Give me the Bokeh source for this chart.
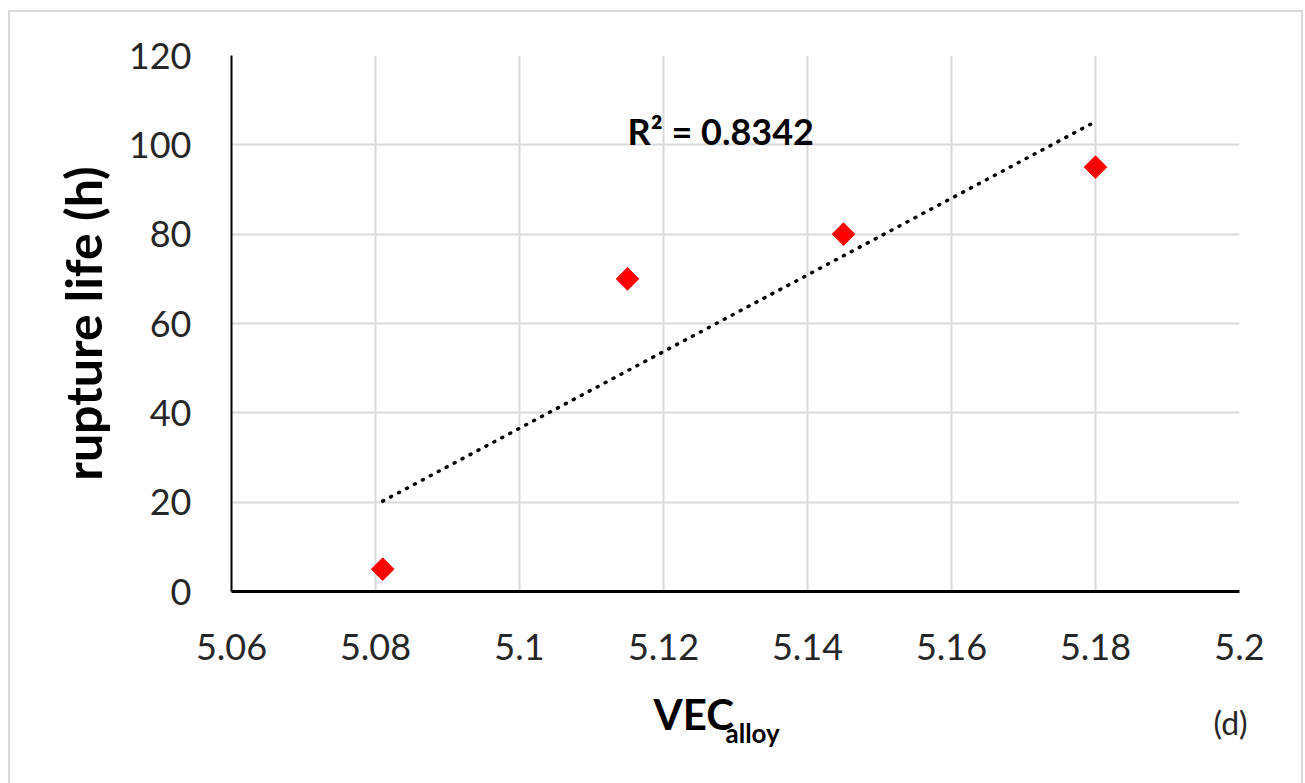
import math
import numpy as np
from bokeh.plotting import figure
from bokeh.models import (FixedTicker, CustomJSTickFormatter, Label, Range1d,
                          ColumnDataSource)
from bokeh.embed import file_html
from bokeh.resources import INLINE

# Valence electron concentration of each alloy and its creep rupture life
vec_alloy = [5.081, 5.115, 5.145, 5.18]
rupture_life_h = [5, 70, 80, 95]

x_ticks = [5.06, 5.08, 5.10, 5.12, 5.14, 5.16, 5.18, 5.20]
x_tick_labels = ["5.06", "5.08", "5.1", "5.12", "5.14", "5.16", "5.18", "5.2"]
y_ticks = [0, 20, 40, 60, 80, 100, 120]
r2_text = "R\u00b2 = 0.8342"

FONT = "Lato"
TICK_COLOR = "#262626"

# canvas sits inside a thin grey chart-area frame
p = figure(width=1291, height=771, output_backend="svg", toolbar_location=None,
           x_range=Range1d(5.06, 5.20), y_range=Range1d(0, 120),
           min_border_left=221, min_border_right=62, min_border_top=43,
           min_border_bottom=192, margin=(12, 0, 0, 10))
p.styles = {"box-shadow": "0 0 0 2px #d9d9d9"}
p.outline_line_color = None
p.background_fill_color = "white"
p.border_fill_color = "white"

# axes
for ax in (p.xaxis[0], p.yaxis[0]):
    ax.major_tick_line_color = None
    ax.minor_tick_line_color = None
    ax.major_tick_out = 0
    ax.major_tick_in = 0
    ax.axis_line_color = "black"
    ax.major_label_text_font = FONT
    ax.major_label_text_font_size = "36px"
    ax.major_label_text_color = TICK_COLOR
p.xaxis[0].axis_line_width = 3
p.yaxis[0].axis_line_width = 2
p.xaxis[0].major_label_standoff = 42
p.yaxis[0].major_label_standoff = 40
p.xaxis[0].ticker = FixedTicker(ticks=x_ticks)
p.yaxis[0].ticker = FixedTicker(ticks=y_ticks)
p.xaxis[0].formatter = CustomJSTickFormatter(
    args=dict(xt=x_ticks, xl=x_tick_labels),
    code="const i = xt.findIndex(t => Math.abs(t - tick) < 1e-9); return i >= 0 ? xl[i] : '';")

p.yaxis[0].axis_label = "rupture life (h)"
p.yaxis[0].axis_label_text_font = FONT
p.yaxis[0].axis_label_text_font_style = "bold"
p.yaxis[0].axis_label_text_font_size = "50px"
p.yaxis[0].axis_label_text_color = "black"
p.yaxis[0].axis_label_standoff = 13

# grid
for g in (p.xgrid[0], p.ygrid[0]):
    g.grid_line_color = "#d9d9d9"
    g.grid_line_width = 2
p.xgrid[0].ticker = FixedTicker(ticks=x_ticks)
p.ygrid[0].ticker = FixedTicker(ticks=y_ticks)

# linear trend line over the measured range
slope, intercept = np.polyfit(vec_alloy, rupture_life_h, 1)
trend_x = [min(vec_alloy), max(vec_alloy)]
trend_y = [slope * x + intercept for x in trend_x]
p.line(trend_x, trend_y, line_color="black", line_width=3.5,
       line_dash="1 8", line_cap="round")

# data points
src = ColumnDataSource(dict(x=vec_alloy, y=rupture_life_h))
p.scatter("x", "y", source=src, marker="square", angle=math.pi / 4, size=16,
          fill_color="#ff0000", line_color="#ff0000", line_width=1)

# coefficient of determination of the trend line
p.add_layout(Label(x=5.115, y=103.0, text=r2_text, text_font=FONT,
                   text_font_style="bold", text_font_size="36px",
                   text_color="black", text_baseline="alphabetic"))

# x axis title "VEC" with subscript "alloy"
p.add_layout(Label(x=422, y=-1, x_units="screen", y_units="screen",
                   text="VEC", text_font=FONT, text_font_style="bold",
                   text_font_size="42px", text_color="black",
                   text_baseline="alphabetic"), "below")
p.add_layout(Label(x=494, y=-677, x_units="screen", y_units="screen",
                   text="alloy", text_font=FONT, text_font_style="bold",
                   text_font_size="26px", text_color="black",
                   text_baseline="alphabetic"), "above")

# panel tag
p.add_layout(Label(x=-26, y=-131, x_units="screen", y_units="screen",
                   text="(d)", text_font=FONT, text_font_size="32px",
                   text_color=TICK_COLOR, text_baseline="alphabetic"), "right")

open("out.html", "w").write(file_html(p, INLINE))
